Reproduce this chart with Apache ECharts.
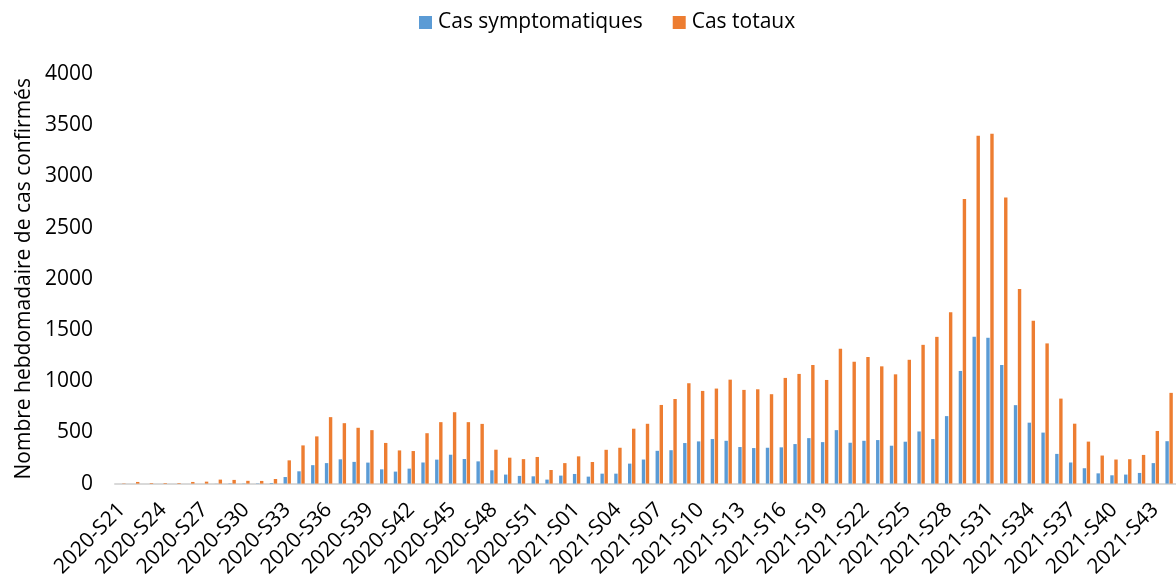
<!DOCTYPE html>
<html>
<head>
<meta charset="utf-8">
<script src="https://cdn.jsdelivr.net/npm/echarts@6/dist/echarts.min.js"></script>
<style>
html,body{margin:0;padding:0;background:#fff;}
#chart{width:1176px;height:580px;}
</style>
</head>
<body>
<div id="chart"></div>
<script>
var weeks2020 = ['2020-S21','2020-S22','2020-S23','2020-S24','2020-S25','2020-S26','2020-S27','2020-S28','2020-S29','2020-S30','2020-S31','2020-S32','2020-S33','2020-S34','2020-S35','2020-S36','2020-S37','2020-S38','2020-S39','2020-S40','2020-S41','2020-S42','2020-S43','2020-S44','2020-S45','2020-S46','2020-S47','2020-S48','2020-S49','2020-S50','2020-S51','2020-S52','2020-S53'];
var weeks2021 = ['2021-S01','2021-S02','2021-S03','2021-S04','2021-S05','2021-S06','2021-S07','2021-S08','2021-S09','2021-S10','2021-S11','2021-S12','2021-S13','2021-S14','2021-S15','2021-S16','2021-S17','2021-S18','2021-S19','2021-S20','2021-S21','2021-S22','2021-S23','2021-S24','2021-S25','2021-S26','2021-S27','2021-S28','2021-S29','2021-S30','2021-S31','2021-S32','2021-S33','2021-S34','2021-S35','2021-S36','2021-S37','2021-S38','2021-S39','2021-S40','2021-S41','2021-S42','2021-S43','2021-S44'];
var categories = weeks2020.concat(weeks2021);

var casSymptomatiques = [0,0,0,0,0,0,0,1,3,2,3,6,64,120,180,200,237,212,205,139,117,146,206,234,282,240,217,130,88,75,71,39,78,
  94,68,97,97,195,235,320,326,396,412,435,418,357,347,350,354,386,444,405,522,399,418,425,370,409,509,435,659,1100,1434,1424,1158,766,595,498,290,206,150,100,81,88,104,200,414];
var casTotaux = [3,16,6,6,6,16,19,39,36,27,26,45,227,373,461,649,590,545,522,397,324,318,492,600,697,600,583,331,253,239,260,133,200,
  266,211,330,350,536,584,768,826,980,905,928,1015,915,921,873,1032,1071,1158,1012,1317,1190,1236,1145,1067,1209,1355,1433,1674,2780,3397,3416,2793,1901,1590,1369,830,585,410,274,235,238,280,514,886];

var yTicks = [0,500,1000,1500,2000,2500,3000,3500,4000];

var FONT = '"Open Sans", "Liberation Sans", sans-serif';
var chart = echarts.init(document.getElementById('chart'), null, {renderer:'canvas'});
chart.setOption({
  animation:false,
  backgroundColor:'#ffffff',
  textStyle:{fontFamily:FONT},
  legend:{
    top:7, left:414,
    icon:'rect', itemWidth:13, itemHeight:13, itemGap:30,
    textStyle:{fontFamily:FONT, fontSize:21, color:'#000', padding:[0,0,0,1]},
    data:['Cas symptomatiques','Cas totaux']
  },
  grid:{left:115, top:74, width:1066, bottom:95, containLabel:false},
  xAxis:{
    type:'category',
    data:categories,
    boundaryGap:true,
    axisLine:{show:true, lineStyle:{color:'#d9d9d9', width:2}},
    axisTick:{show:false},
    axisLabel:{interval:2, rotate:45, fontFamily:FONT, fontSize:21, color:'#000', margin:23}
  },
  yAxis:{
    type:'value',
    min:yTicks[0], max:yTicks[yTicks.length-1], interval:500,
    name:'Nombre hebdomadaire de cas confirmés',
    nameLocation:'middle', nameGap:77,
    nameTextStyle:{fontFamily:FONT, fontSize:21, color:'#000'},
    axisLine:{show:false}, axisTick:{show:false},
    splitLine:{show:false},
    axisLabel:{fontFamily:FONT, fontSize:21, color:'#000', margin:22,
      formatter:function(v){return String(v);}}
  },
  series:[
    {name:'Cas symptomatiques', type:'bar', data:casSymptomatiques, barWidth:3.4, barGap:'18%',
     itemStyle:{color:'#5B9BD5'}},
    {name:'Cas totaux', type:'bar', data:casTotaux, barWidth:3.4, barGap:'18%',
     itemStyle:{color:'#ED7D31'}}
  ]
});
</script>
</body>
</html>
